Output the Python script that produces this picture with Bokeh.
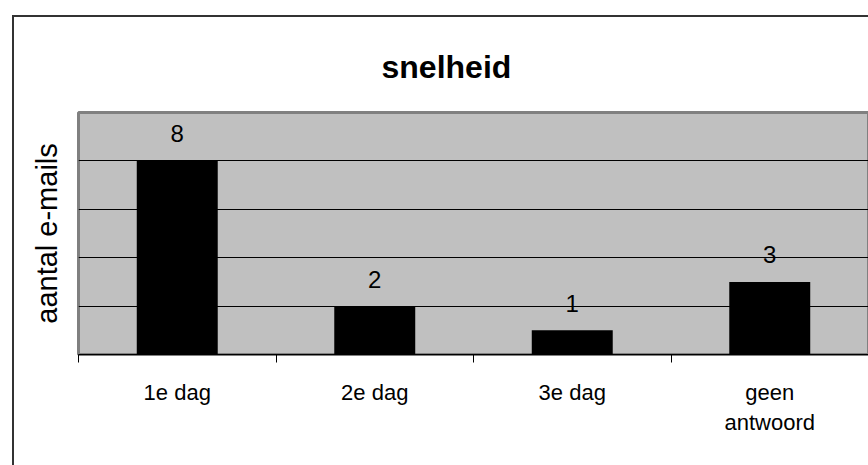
from bokeh.plotting import figure
from bokeh.models import Range1d, FixedTicker, ColumnDataSource
from bokeh.core.properties import value
from bokeh.embed import file_html
from bokeh.resources import INLINE

# ---- data ----
categories = ["1e dag", "2e dag", "3e dag", "geen\nantwoord"]
counts = [8, 2, 1, 3]
grid_values = [2, 4, 6, 8]
y_max = 10
title_text = "snelheid"
y_label = "aantal e-mails"

FONT = "Liberation Sans"

xs = [i + 0.5 for i in range(len(categories))]
src = ColumnDataSource(dict(x=xs, top=counts, label=[str(c) for c in counts]))

p = figure(width=856, height=450, output_backend="svg", toolbar_location=None,
           x_range=Range1d(0, len(categories)), y_range=Range1d(0, y_max),
           min_border_left=64, min_border_right=2, min_border_top=95,
           min_border_bottom=113)
p.margin = (15, 0, 0, 12)
p.styles = {"border-top": "2px solid #333333", "border-left": "2px solid #333333",
            "box-sizing": "border-box"}
p.background_fill_color = "#C0C0C0"
p.border_fill_color = "white"
p.outline_line_color = "#808080"
p.outline_line_width = 3

# title
p.title.text = title_text
p.title.text_font = FONT
p.title.text_font_size = "32px"
p.title.text_font_style = "bold"
p.title.text_color = "black"
p.title.align = "left"
p.title.offset = 303
p.title.standoff = 56

# grid
p.xgrid.visible = False
p.ygrid.ticker = FixedTicker(ticks=grid_values)
p.ygrid.grid_line_color = "black"
p.ygrid.grid_line_width = 1

# x axis
xa = p.below[0]
xa.ticker = FixedTicker(ticks=xs, minor_ticks=list(range(len(categories) + 1)))
xa.major_label_overrides = {x: c for x, c in zip(xs, categories)}
xa.major_tick_out = 0
xa.major_tick_in = 0
xa.minor_tick_out = 8
xa.minor_tick_in = 0
xa.minor_tick_line_color = "black"
xa.axis_line_color = "black"
xa.major_label_text_font = FONT
xa.major_label_text_font_size = "22px"
xa.major_label_text_color = "black"
xa.major_label_standoff = 17

# y axis (label only)
ya = p.left[0]
ya.ticker = FixedTicker(ticks=[])
ya.axis_line_color = None
ya.major_tick_line_color = None
ya.minor_tick_line_color = None
ya.major_tick_out = 0
ya.major_tick_in = 0
ya.minor_tick_out = 0
ya.major_label_standoff = 0
ya.axis_label = y_label
ya.axis_label_text_font = FONT
ya.axis_label_text_font_size = "29px"
ya.axis_label_text_font_style = "normal"
ya.axis_label_text_color = "black"
ya.axis_label_standoff = 16

# bars and value labels
p.vbar(x="x", top="top", width=0.41, source=src, fill_color="black", line_color=None)
p.text(x="x", y="top", text="label", source=src, text_align="center",
       text_baseline="alphabetic", y_offset=-27, text_font=value(FONT),
       text_font_size="24px", text_color="black")

open("out.html", "w").write(file_html(p, INLINE))
